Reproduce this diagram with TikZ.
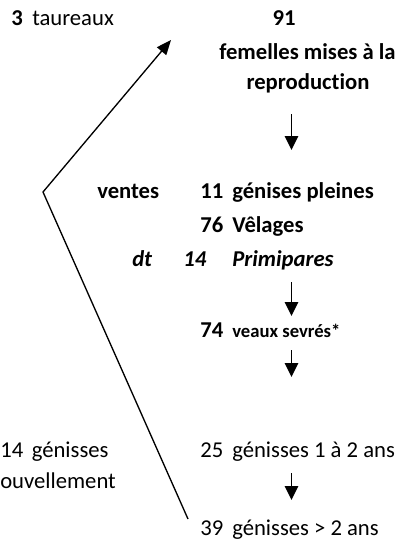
\documentclass[tikz,border=0pt]{standalone}
\usepackage{fontspec}
\setmainfont{Carlito}[Ligatures=NoCommon]
\usetikzlibrary{arrows.meta,positioning}
\tikzset{%
  % text classes
  txt/.style={anchor=base west, inner sep=0pt, font=\fontsize{17}{20}\selectfont},
  strong/.style={txt, font=\fontsize{17}{20}\selectfont\bfseries},
  slant/.style={txt, font=\fontsize{17}{20}\selectfont\bfseries\itshape},
  tiny/.style={txt, font=\fontsize{14}{16}\selectfont\bfseries},
  mid/.style={anchor=base},
  % edge styles
  flow/.style={-{Triangle[width=10pt,length=10.5pt]}, line width=1.3pt},
  feed/.style={-{Triangle[width=9pt,length=11pt]}, line width=1pt},
}
\begin{document}
\begin{tikzpicture}[x=0.75pt, y=-0.75pt]
  \useasboundingbox (0,0) rectangle (405,554);

  % top
  \node[strong] (n3) at (11,25) {3};
  \node[txt] (taureaux) at (32,25) {taureaux};
  \node[strong, mid] (n91) at (284,25) {91};
  \node[strong, mid] (femelles) at (307.5,59) {femelles mises à la};
  \node[strong, mid] (repro) at (308,89) {reproduction};

  % middle block
  \node[strong] (ventes) at (97,198) {ventes};
  \node[strong] (n11) at (200,198) {11};
  \node[strong] (pleines) at (232,198) {génises pleines};
  \node[strong] (n76) at (200,232) {76};
  \node[strong] (velages) at (232,232) {Vêlages};
  \node[slant] (dt) at (132,266) {dt};
  \node[slant] (n14p) at (183,266) {14};
  \node[slant] (prim) at (232,266) {Primipares};
  \node[strong] (n74) at (200,337) {74};
  \node[tiny] (sevres) at (232,337) {veaux sevrés*};

  % bottom
  \node[txt] (n25) at (200,457) {25};
  \node[txt] (g12) at (232,457) {génisses 1 à 2 ans};
  \node[txt] (n39) at (200,535) {39};
  \node[txt] (g2) at (232,535) {génisses > 2 ans};
  \node[txt] (n14r) at (0,457) {14};
  \node[txt, base right=6pt of n14r] (genr) {génisses};
  \node[txt] (renouv) at (0,488) {ouvellement};

  % flow arrows
  \coordinate (a1) at (291.5,114);
  \coordinate (b1) at (291.5,150);
  \coordinate (a2) at (291.5,282);
  \coordinate (b2) at (291.5,316);
  \coordinate (a3) at (291.5,350);
  \coordinate (b3) at (291.5,377);
  \coordinate (a4) at (291.5,473);
  \coordinate (b4) at (291.5,500);
  \draw[flow] (a1) -- (b1);
  \draw[flow] (a2) -- (b2);
  \draw[flow] (a3) -- (b3);
  \draw[flow] (a4) -- (b4);

  % return of the heifers
  \coordinate (back) at (188,519);
  \coordinate (apex) at (43,192);
  \coordinate (tip) at (171,40);
  \draw[feed] (back) -- (apex) -- (tip);
\end{tikzpicture}
\end{document}
